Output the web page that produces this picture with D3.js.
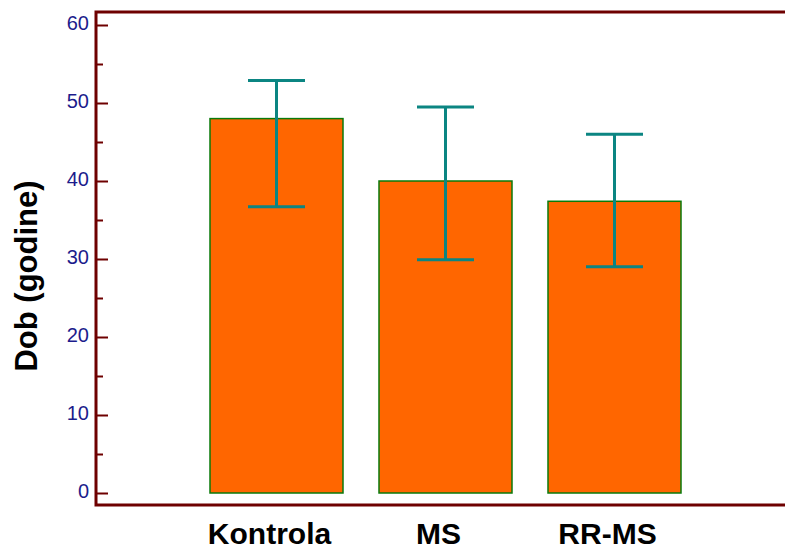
<!DOCTYPE html>
<html>
<head>
<meta charset="utf-8">
<script src="https://cdn.jsdelivr.net/npm/d3@7"></script>
<style>
  html, body { margin: 0; padding: 0; background: #fff; }
  svg { display: block; }
</style>
</head>
<body>
<svg id="chart" width="785" height="551"></svg>
<script>
const categories = ["Kontrola", "MS", "RR-MS"];
const means = [48.0, 40.0, 37.4];
const errLow = [36.7, 29.9, 29.0];
const errHigh = [52.9, 49.5, 46.0];
const yTickValues = [0, 10, 20, 30, 40, 50, 60];
const yMinorTicks = [5, 15, 25, 35, 45, 55];
const yLabel = "Dob (godine)";

const svg = d3.select("#chart");
const frameColor = "#6e0000";
const axisX = 96, frameTop = 12, frameBottom = 505, frameRight = 785;

const y = d3.scaleLinear().domain([0, 60]).range([493, 25]);
const x = d3.scaleBand().domain(categories).range([192, 699])
  .paddingInner(0.213).paddingOuter(0.1065);

const data = categories.map((c, i) => ({ c, m: means[i], lo: errLow[i], hi: errHigh[i] }));

// bars
svg.append("g").selectAll("rect").data(data).join("rect")
  .attr("x", d => x(d.c))
  .attr("y", d => y(d.m))
  .attr("width", x.bandwidth())
  .attr("height", d => y(0) - y(d.m))
  .attr("fill", "#ff6600")
  .attr("stroke", "#0a7a0a")
  .attr("stroke-width", 1.5);

// error bars
const eb = svg.append("g").attr("stroke", "#0b8582").attr("stroke-width", 3).attr("fill", "none");
const capW = 57;
data.forEach(d => {
  const cx = x(d.c) + x.bandwidth() / 2;
  eb.append("line").attr("x1", cx).attr("x2", cx).attr("y1", y(d.lo)).attr("y2", y(d.hi));
  eb.append("line").attr("x1", cx - capW / 2).attr("x2", cx + capW / 2).attr("y1", y(d.hi)).attr("y2", y(d.hi));
  eb.append("line").attr("x1", cx - capW / 2).attr("x2", cx + capW / 2).attr("y1", y(d.lo)).attr("y2", y(d.lo));
});

// y axis ticks (inward)
const axis = d3.axisRight(y).tickValues(yTickValues).tickSize(12).tickFormat("");
const gAxis = svg.append("g").attr("transform", `translate(${axisX},0)`).call(axis);
gAxis.select(".domain").remove();
gAxis.selectAll(".tick line").attr("stroke", frameColor).attr("stroke-width", 2);

const minor = d3.axisRight(y).tickValues(yMinorTicks).tickSize(7).tickFormat("");
const gMinor = svg.append("g").attr("transform", `translate(${axisX},0)`).call(minor);
gMinor.select(".domain").remove();
gMinor.selectAll(".tick line").attr("stroke", frameColor).attr("stroke-width", 2);

// tick labels
svg.append("g").selectAll("text").data(yTickValues).join("text")
  .attr("x", axisX - 7)
  .attr("y", d => y(d) - 2)
  .attr("dy", "0.35em")
  .attr("text-anchor", "end")
  .attr("font-family", "Liberation Sans, Arial, sans-serif")
  .attr("font-size", 20)
  .attr("fill", "#1c1c8c")
  .text(d => d);

// frame
const fr = svg.append("g").attr("stroke", frameColor).attr("stroke-width", 3).attr("fill", "none");
fr.append("path").attr("d", `M${frameRight},${frameTop}H${axisX}V${frameBottom}H${frameRight}`);

// x labels
svg.append("g").selectAll("text").data(categories).join("text")
  .attr("x", d => x(d) + x.bandwidth() / 2 - 7)
  .attr("y", 544)
  .attr("text-anchor", "middle")
  .attr("font-family", "Liberation Sans, Arial, sans-serif")
  .attr("font-weight", "bold")
  .attr("font-size", 30)
  .attr("fill", "#000")
  .text(d => d);

// y label
svg.append("text")
  .attr("transform", `translate(37,276) rotate(-90)`)
  .attr("text-anchor", "middle")
  .attr("font-family", "Liberation Sans, Arial, sans-serif")
  .attr("font-weight", "bold")
  .attr("font-size", 31)
  .attr("fill", "#000")
  .text(yLabel);
</script>
</body>
</html>
